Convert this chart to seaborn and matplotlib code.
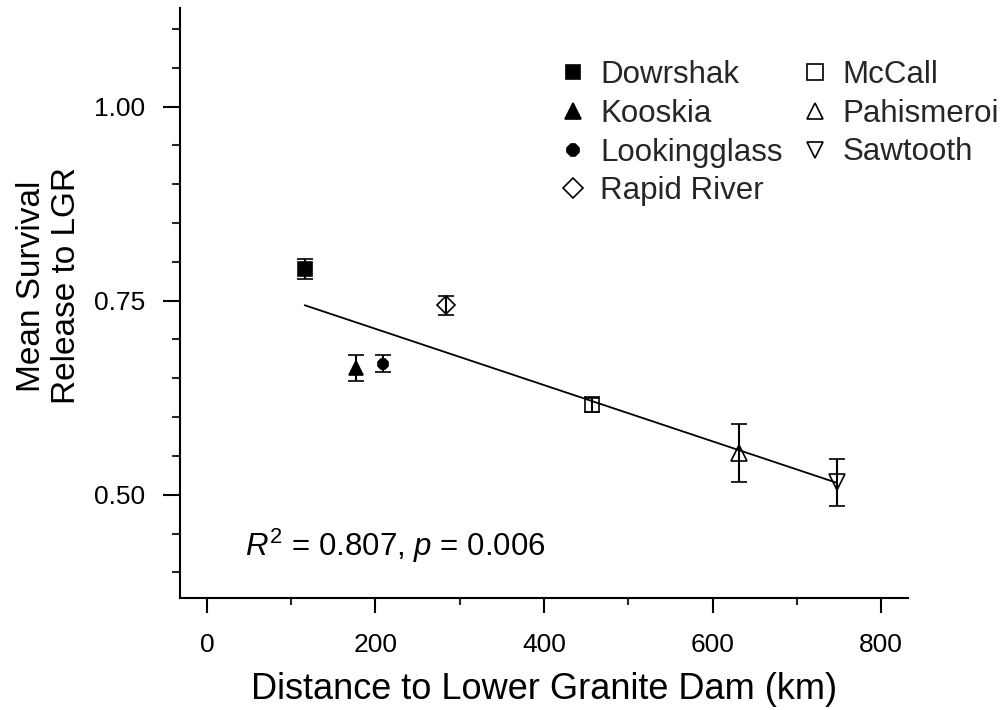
import numpy as np
import pandas as pd
import matplotlib
matplotlib.use("Agg")
import matplotlib.pyplot as plt
import seaborn as sns
from matplotlib.ticker import MultipleLocator

sites = ["Dowrshak", "Kooskia", "Lookingglass", "Rapid River", "McCall", "Pahismeroi", "Sawtooth"]
distance_km = [116, 177, 209, 284, 457, 632, 748]
mean_survival = [0.791, 0.663, 0.669, 0.744, 0.616, 0.554, 0.516]
survival_err = [0.013, 0.017, 0.011, 0.012, 0.010, 0.037, 0.030]
markers = ["s", "^", "8", "D", "s", "^", "v"]
filled = [True, True, True, False, False, False, False]
marker_sizes = [9.5, 10, 8, 9, 10, 11, 11]
annotation = r"$R^2$ = 0.807, $p$ = 0.006"

df = pd.DataFrame({"site": sites, "distance": distance_km,
                   "survival": mean_survival, "err": survival_err})

sns.set_theme(style="ticks")
plt.rcParams["font.family"] = ["Liberation Sans", "DejaVu Sans"]
plt.rcParams["mathtext.fontset"] = "custom"
plt.rcParams["mathtext.rm"] = "Liberation Sans"
plt.rcParams["mathtext.it"] = "Liberation Sans:italic"

fig = plt.figure(figsize=(10.03, 7.10), dpi=100)
ax = fig.add_axes([180 / 1003, 1 - 598 / 710, (908 - 180) / 1003, (598 - 8) / 710])

# regression line
sns.regplot(data=df, x="distance", y="survival", scatter=False, ci=None,
            truncate=True, color="black", line_kws={"lw": 1.3}, ax=ax)

handles = []
for i, row in df.iterrows():
    fc = "black" if filled[i] else "none"
    cont = ax.errorbar(row["distance"], row["survival"], yerr=row["err"],
                       fmt=markers[i], ms=marker_sizes[i], mfc=fc, mec="black",
                       mew=1.2, ecolor="black", elinewidth=1.5, capsize=6,
                       capthick=1.5, color="black", zorder=3)
    handles.append(cont.lines[0])

ax.set_xlim(-32, 832)
ax.set_ylim(0.367, 1.127)
ax.xaxis.set_major_locator(MultipleLocator(200))
ax.xaxis.set_minor_locator(MultipleLocator(100))
ax.set_yticks([0.50, 0.75, 1.00])
ax.set_yticks(np.arange(0.40, 1.1001, 0.05), minor=True)
ax.set_yticklabels(["0.50", "0.75", "1.00"])

for s in ["top", "right"]:
    ax.spines[s].set_visible(False)
for s in ["left", "bottom"]:
    ax.spines[s].set_linewidth(1.5)
    ax.spines[s].set_color("black")

ax.tick_params(axis="x", which="major", length=11, width=1.5, labelsize=19,
               colors="black", pad=14, direction="out")
ax.tick_params(axis="x", which="minor", length=5, width=1.5, direction="out")
ax.tick_params(axis="y", which="major", length=12, width=1.5, labelsize=19,
               colors="black", pad=13, direction="out")
ax.tick_params(axis="y", which="minor", length=6, width=1.5, direction="out")

ax.set_xlabel("Distance to Lower Granite Dam (km)", fontsize=26, color="black")
ax.xaxis.set_label_coords(0.5, (598 - 707) / 590)
ax.xaxis.label.set_va("bottom")
ax.set_ylabel("Mean Survival\nRelease to LGR", fontsize=24, color="black",
              linespacing=1.15)
ax.yaxis.set_label_coords((82 - 180) / 728, 1 - (286 - 8) / 590)

ax.text(45, 0.434, annotation, fontsize=22.5, ha="left", va="center",
        color="black")

ax.legend(handles, sites, ncol=2, frameon=False, fontsize=22.5,
          loc="upper left", bbox_to_anchor=((560 - 180) / 728, 1 - (60 - 8) / 590),
          handlelength=0.8, handletextpad=0.49, columnspacing=0.62,
          labelspacing=0.28, borderaxespad=0, borderpad=0, markerscale=1.1)

fig.savefig("out.png", dpi=100)
